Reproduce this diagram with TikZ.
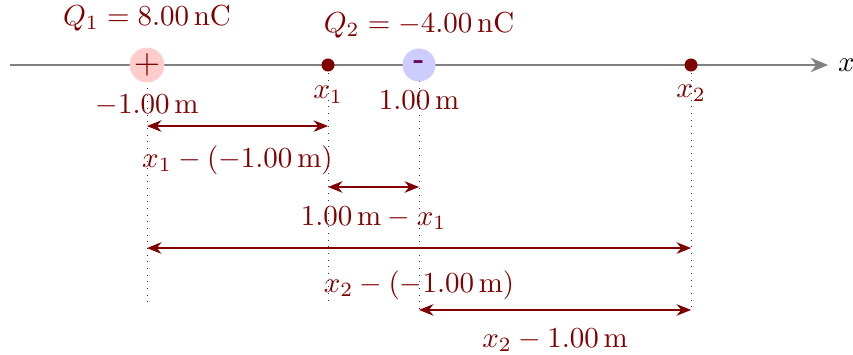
\documentclass[tikz,border=0pt]{standalone}
\usepackage{amsmath}
\usetikzlibrary{arrows.meta}

\colorlet{dimred}{red!50!black}
\tikzset{
  dimarrow/.style={draw=dimred, {Stealth[length=5pt,width=4pt]}-{Stealth[length=5pt,width=4pt]}},
  guide/.style={draw=black!80, dotted, line width=0.3pt},
  dimlabel/.style={text=dimred, inner sep=1pt},
}

\begin{document}
\begin{tikzpicture}[x=1.65cm, y=1.65cm]
\useasboundingbox (-2.081,-2.132) rectangle (4.191,0.478);

% axis
\draw[gray, -{Stealth[length=6pt,width=5pt]}] (-2.007,0) -- (4.007,0) node[right, text=black] (xlab) {$x$};

% guide lines
\begin{scope}[every path/.style={guide}]
    \draw (-1,-0.12) -- (-1,-1.765);
    \draw (0.331,-0.06) -- (0.331,-1.765);
    \draw (1,-0.12) -- (1,-1.816);
    \draw (3,-0.06) -- (3,-1.816);
\end{scope}

% charges and points
\node[circle, fill=red!20, minimum size=0.40cm, inner sep=0pt, text=dimred] (Q1) at (-1,0) {\large$+$};
\node[circle, fill=blue!20, minimum size=0.40cm, inner sep=0pt, text={rgb,255:red,105;green,0;blue,80}] (Q2) at (1,0) {\textbf{-}};
\node[circle, fill=dimred, minimum size=4.5pt, inner sep=0pt] (X1) at (0.331,0) {};
\node[circle, fill=dimred, minimum size=4.5pt, inner sep=0pt] (X2) at (3,0) {};

% labels
\begin{scope}[every node/.style={text=dimred}]
    \node (Q1lab) at (-1,0.346) {$Q_1 = 8.00\,\mathrm{nC}$};
    \node (Q2lab) at (1,0.294) {$Q_2 = -4.00\,\mathrm{nC}$};
    \node (Q1pos) at (-1,-0.294) {$-1.00\,\mathrm{m}$};
    \node (Q2pos) at (1,-0.257) {$1.00\,\mathrm{m}$};
    \node (X1lab) at (0.331,-0.22) {$x_1$};
    \node (X2lab) at (3,-0.206) {$x_2$};
\end{scope}

% distances
\path[dimarrow] (Q1 |- 0,-0.449) -- (X1 |- 0,-0.449);
\path[dimarrow] (X1 |- 0,-0.897) -- (Q2 |- 0,-0.897);
\path[dimarrow] (Q1 |- 0,-1.346) -- (X2 |- 0,-1.346);
\path[dimarrow] (Q2 |- 0,-1.801) -- (X2 |- 0,-1.801);

\node[dimlabel] (d1) at (-0.335,-0.699) {$x_1 - (-1.00\,\mathrm{m})$};
\node[dimlabel] (d2) at (0.666,-1.125) {$1.00\,\mathrm{m} - x_1$};
\node[dimlabel] (d3) at (1,-1.618) {$x_2 - (-1.00\,\mathrm{m})$};
\node[dimlabel] (d4) at (2,-2.022) {$x_2 - 1.00\,\mathrm{m}$};
\end{tikzpicture}
\end{document}
